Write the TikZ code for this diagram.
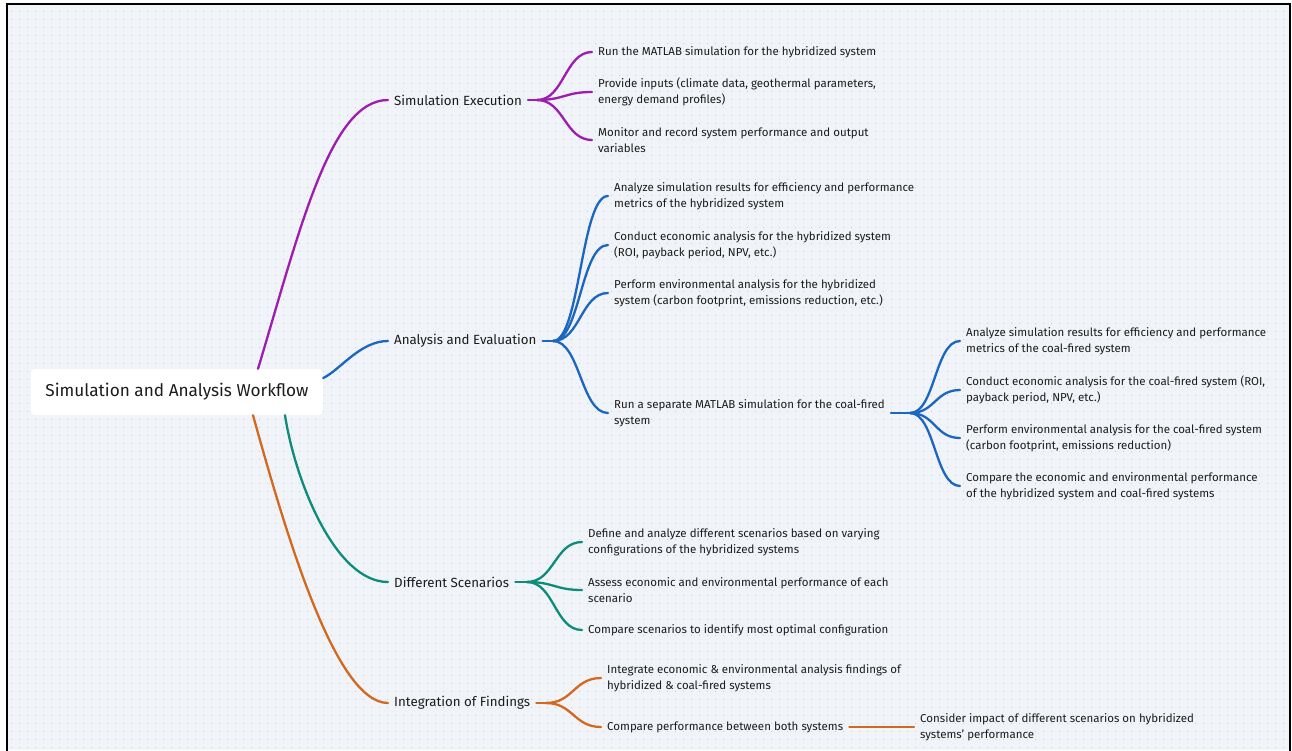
\documentclass[tikz,border=0pt]{standalone}
\usepackage{fontspec}
\setmainfont{Fira Sans}
\usetikzlibrary{calc,patterns.meta}
\definecolor{bg}{HTML}{F0F3F7}
\definecolor{cpur}{HTML}{9C1DB0}
\definecolor{cblu}{HTML}{1A66C0}
\definecolor{ctea}{HTML}{0E8C7B}
\definecolor{cora}{HTML}{D2691E}
\definecolor{txt}{HTML}{1C1C1C}
\definecolor{dotc}{HTML}{C8CCD2}
\tikzdeclarepattern{name=griddots, type=uncolored,
  bounding box={(0pt,0pt) and (8pt,8pt)}, tile size={(8pt,8pt)},
  code={\fill (4pt,4pt) circle (0.6pt);}}
\tikzset{
  rootbox/.style={fill=white, rounded corners=4pt, minimum width=292pt, minimum height=46pt,
    font=\fontsize{17.2}{20}\selectfont, text=txt},
  mainlbl/.style={anchor=west, inner xsep=6pt, inner ysep=2pt, font=\fontsize{13.3}{16}\selectfont, text=txt},
  leaf/.style={anchor=west, inner xsep=6pt, inner ysep=2pt, align=left, font=\fontsize{11.5}{16}\selectfont, text=txt},
  conn/.style={line width=2.3pt, line cap=round},
}
\begin{document}
\begin{tikzpicture}[x=1pt,y=-1pt]
\useasboundingbox (0,0) rectangle (1292,750);
\fill[white] (0,0) rectangle (1292,750);
\fill[bg] (7,4) rectangle (1290,750);
\fill[pattern=griddots, pattern color=dotc] (8,5) rectangle (1289,750);
\draw[line width=2pt, black] (7,752) -- (7,4) -- (1290,4) -- (1290,752);

% root
\node[rootbox] (root) at (177,392) {Simulation and Analysis Workflow};

% main branches
\node[mainlbl] (se) at (388,100) {Simulation Execution};
\node[mainlbl] (ae) at (388,341) {Analysis and Evaluation};
\node[mainlbl] (ds) at (388,582) {Different Scenarios};
\node[mainlbl] (inf) at (388,703) {Integration of Findings};

\draw[conn, cpur] ([xshift=81pt]root.north) .. controls +(42,-139) and +(-58,0) .. (se.west);
\draw[conn, cblu] ([yshift=14pt]root.east) .. controls +(17,-8) and +(-28,0) .. (ae.west);
\draw[conn, ctea] ([xshift=108pt]root.south) .. controls +(10,65) and +(-53,0) .. (ds.west);
\draw[conn, cora] ([xshift=76pt]root.south) .. controls +(32,115) and +(-53,0) .. (inf.west);

% forks
\coordinate (sef) at (537,100);
\coordinate (aef) at (553,341);
\coordinate (dsf) at (527,582);
\coordinate (inff) at (546,703);

% Simulation Execution children
\node[leaf] (c1) at (592,52) {Run the MATLAB simulation for the hybridized system};
\node[leaf] (c2) at (592,92) {Provide inputs (climate data, geothermal parameters,\\energy demand profiles)};
\node[leaf] (c3) at (592,140) {Monitor and record system performance and output\\variables};
\draw[conn, cpur] (se.east) -- (sef);
\foreach \n in {c1,c2,c3}
  \draw[conn, cpur] (sef) .. controls +(27,0) and +(-27,0) .. (\n.west);

% Analysis children
\node[leaf] (a1) at (608,196) {Analyze simulation results for efficiency and performance\\metrics of the hybridized system};
\node[leaf] (a2) at (608,245) {Conduct economic analysis for the hybridized system\\(ROI, payback period, NPV, etc.)};
\node[leaf] (a3) at (608,293) {Perform environmental analysis for the hybridized\\system (carbon footprint, emissions reduction, etc.)};
\node[leaf] (a4) at (608,413) {Run a separate MATLAB simulation for the coal-fired\\system};
\draw[conn, cblu] (ae.east) -- (aef);
\foreach \n in {a1,a2,a3,a4}
  \draw[conn, cblu] (aef) .. controls +(27,0) and +(-27,0) .. (\n.west);

% coal-fired children
\coordinate (a4f) at (910,413);
\node[leaf] (b1) at (960,341) {Analyze simulation results for efficiency and performance\\metrics of the coal-fired system};
\node[leaf] (b2) at (960,390) {Conduct economic analysis for the coal-fired system (ROI,\\payback period, NPV, etc.)};
\node[leaf] (b3) at (960,438) {Perform environmental analysis for the coal-fired system\\(carbon footprint, emissions reduction)};
\node[leaf] (b4) at (960,486) {Compare the economic and environmental performance\\of the hybridized system and coal-fired systems};
\draw[conn, cblu] (a4.east) -- (a4f);
\foreach \n in {b1,b2,b3,b4}
  \draw[conn, cblu] (a4f) .. controls +(25,0) and +(-25,0) .. (\n.west);

% Different Scenarios children
\node[leaf] (s1) at (582,542) {Define and analyze different scenarios based on varying\\configurations of the hybridized systems};
\node[leaf] (s2) at (582,590) {Assess economic and environmental performance of each\\scenario};
\node[leaf] (s3) at (582,630) {Compare scenarios to identify most optimal configuration};
\draw[conn, ctea] (ds.east) -- (dsf);
\foreach \n in {s1,s2,s3}
  \draw[conn, ctea] (dsf) .. controls +(27,0) and +(-27,0) .. (\n.west);

% Integration children
\node[leaf] (i1) at (601,678) {Integrate economic \& environmental analysis findings of\\hybridized \& coal-fired systems};
\node[leaf] (i2) at (601,727) {Compare performance between both systems};
\node[leaf] (i3) at (914,727) {Consider impact of different scenarios on hybridized\\systems' performance};
\draw[conn, cora] (inf.east) -- (inff);
\foreach \n in {i1,i2}
  \draw[conn, cora] (inff) .. controls +(27,0) and +(-27,0) .. (\n.west);
\draw[conn, cora] (i2.east) -- (i3.west);
\end{tikzpicture}
\end{document}
